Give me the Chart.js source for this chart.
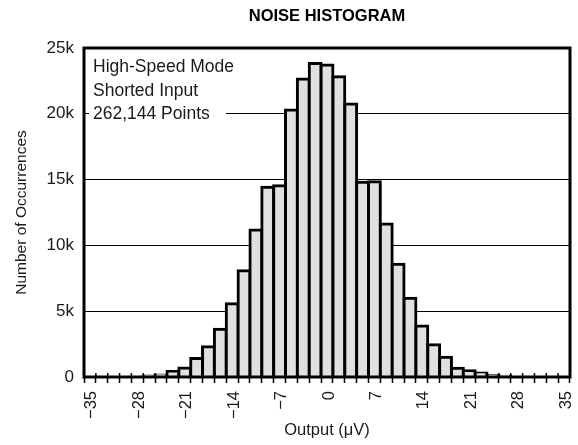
<!DOCTYPE html>
<html>
<head>
<meta charset="utf-8">
<script src="https://cdn.jsdelivr.net/npm/chart.js@4.4.1/dist/chart.umd.min.js"></script>
<style>
  html, body { margin: 0; padding: 0; background: #fff; }
  #wrap { width: 578px; height: 445px; }
</style>
</head>
<body>
<div id="wrap"><canvas id="noiseChart" width="578" height="445"></canvas></div>
<script>
// bin centres (µV), one code = 1.75 µV
const binCenters = [-35, -33.25, -31.5, -29.75, -28, -26.25, -24.5, -22.75, -21, -19.25,
  -17.5, -15.75, -14, -12.25, -10.5, -8.75, -7, -5.25, -3.5, -1.75,
  0, 1.75, 3.5, 5.25, 7, 8.75, 10.5, 12.25, 14, 15.75,
  17.5, 19.25, 21, 22.75, 24.5, 26.25, 28, 29.75, 31.5, 33.25, 35];
const counts = [0, 0, 0, 0, 20, 70, 160, 420, 680, 1400,
  2300, 3630, 5560, 8080, 11170, 14410, 14540, 20290, 22640, 23830,
  23710, 22820, 20740, 14790, 14840, 11630, 8560, 5980, 3880, 2450,
  1500, 660, 480, 300, 130, 50, 15, 0, 0, 0, 0];
const xTickValues = [-35, -28, -21, -14, -7, 0, 7, 14, 21, 28, 35];
const xTickLabels = ['\u221235', '\u221228', '\u221221', '\u221214', '\u22127', '0', '7', '14', '21', '28', '35'];
const yTickValues = [0, 5000, 10000, 15000, 20000, 25000];
const yTickLabels = ['0', '5k', '10k', '15k', '20k', '25k'];
const noteLines = ['High-Speed Mode', 'Shorted Input', '262,144 Points'];

const FONT = "'Liberation Sans', Arial, Helvetica, sans-serif";

// note block (top left) and the heavy frame
const framePlugin = {
  id: 'frame',
  beforeDatasetsDraw(chart) {
    const { ctx, chartArea } = chart;
    ctx.save();
    ctx.fillStyle = '#fff';
    ctx.fillRect(chartArea.left + 5, chartArea.top + 4, 137, 74);
    ctx.fillStyle = '#1a1a1a';
    ctx.font = '17.5px ' + FONT;
    ctx.textBaseline = 'alphabetic';
    noteLines.forEach((t, i) => ctx.fillText(t, chartArea.left + 9, chartArea.top + 24 + i * 23.7));
    ctx.restore();
  },
  afterDatasetsDraw(chart) {
    const { ctx, chartArea, scales } = chart;
    ctx.save();
    ctx.strokeStyle = '#000';
    // inner part of the bin-edge ticks
    ctx.lineWidth = 1.5;
    ctx.beginPath();
    for (let i = 0; i <= binCenters.length; i++) {
      const px = scales.x.getPixelForValue(i - 0.5);
      ctx.moveTo(px, chartArea.bottom - 4);
      ctx.lineTo(px, chartArea.bottom);
    }
    ctx.stroke();
    ctx.lineWidth = 3;
    ctx.strokeRect(chartArea.left, chartArea.top, chartArea.right - chartArea.left, chartArea.bottom - chartArea.top);
    ctx.restore();
  }
};

new Chart(document.getElementById('noiseChart').getContext('2d'), {
  type: 'bar',
  data: {
    labels: binCenters,
    datasets: [{
      data: counts,
      backgroundColor: '#e0e0e2',
      borderColor: '#000',
      borderWidth: 3,
      inflateAmount: 1.5,
      borderSkipped: 'start',
      barPercentage: 1,
      categoryPercentage: 1
    }]
  },
  options: {
    responsive: false,
    animation: false,
    devicePixelRatio: 1,
    layout: { padding: { left: 0, right: 8, top: 0, bottom: 0 } },
    plugins: { legend: { display: false }, tooltip: { enabled: false }, title: { display: false } },
    scales: {
      x: {
        type: 'category',
        position: 'bottom',
        offset: true,
        border: { display: false },
        grid: { offset: true, drawOnChartArea: false, drawTicks: true, tickLength: 6, tickWidth: 1.5, tickColor: '#000' },
        ticks: {
          autoSkip: false,
          minRotation: 90,
          maxRotation: 90,
          padding: 8,
          labelOffset: 2,
          color: '#1a1a1a',
          font: { family: FONT, size: 16.5 },
          callback: (v, i) => {
            const j = xTickValues.indexOf(binCenters[i]);
            return j >= 0 ? xTickLabels[j] : '';
          }
        },
        title: { display: true, text: 'Output (\u03bcV)', color: '#1a1a1a', font: { family: FONT, size: 16.5 }, padding: { top: 0, bottom: 5 } },
        afterFit: s => { s.height = 68; s.paddingLeft = 0; s.paddingRight = 0; }
      },
      xTop: {
        type: 'category',
        position: 'top',
        labels: binCenters,
        border: { display: false },
        grid: { display: false },
        ticks: { display: false },
        title: { display: true, text: 'NOISE HISTOGRAM', color: '#000', font: { family: FONT, size: 16.5, weight: 'bold' }, padding: { top: 7, bottom: 0 } },
        afterFit: s => { s.height = 48; s.paddingLeft = 0; s.paddingRight = 0; }
      },
      y: {
        min: 0,
        max: 25000,
        border: { display: false },
        grid: { color: '#000', lineWidth: 1, drawTicks: false },
        afterBuildTicks: s => { s.ticks = yTickValues.map(v => ({ value: v })); },
        ticks: {
          padding: 10,
          color: '#1a1a1a',
          font: { family: FONT, size: 17 },
          callback: v => yTickLabels[yTickValues.indexOf(v)]
        },
        title: { display: true, text: 'Number of Occurrences', color: '#1a1a1a', font: { family: FONT, size: 15.5 }, padding: { top: 12, bottom: 0 } },
        afterFit: s => { s.width = 84; }
      }
    }
  },
  plugins: [framePlugin]
});
</script>
</body>
</html>
